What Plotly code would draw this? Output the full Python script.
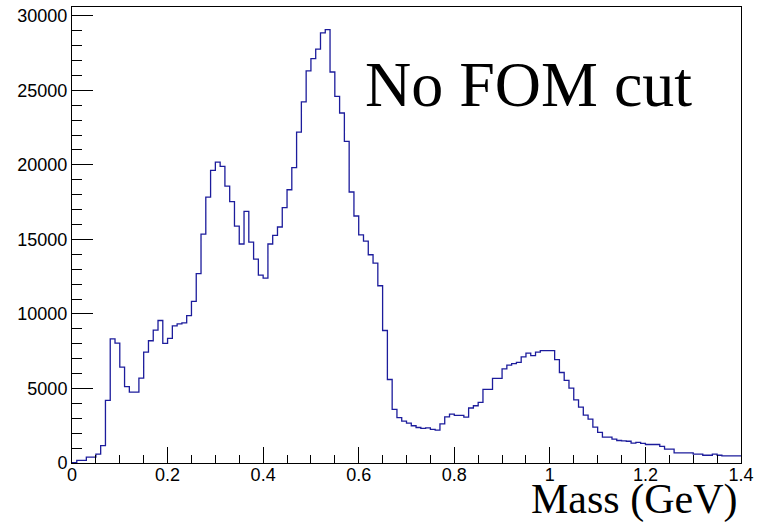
import numpy as np
import plotly.graph_objects as go

# Histogram: 140 bins of width 0.01 GeV from 0 to 1.4
bin_low = 0.0
bin_width = 0.01
counts = [
    20, 170, 170, 390, 390, 600, 1170, 4200, 8330, 8040,
    6430, 5130, 4750, 4750, 5690, 7440, 8200, 8910, 9560, 8020,
    8360, 9200, 9330, 9400, 9890, 10840, 12700, 15360, 17840, 19630,
    20190, 19900, 18580, 17530, 15890, 14690, 16880, 14820, 13680, 12600,
    12400, 14690, 15270, 15830, 17130, 18330, 19820, 22200, 24220, 26300,
    27130, 27770, 28850, 29070, 26230, 24600, 23480, 21580, 18180, 16570,
    15310, 14890, 13970, 13410, 11890, 8890, 5600, 3600, 3040, 2810,
    2670, 2500, 2380, 2320, 2350, 2260, 2210, 2620, 3090, 3280,
    3190, 3190, 3080, 3690, 3840, 4070, 4940, 4940, 5680, 5680,
    6310, 6560, 6660, 6750, 7120, 7370, 7200, 7440, 7540, 7540,
    7540, 6930, 6070, 5540, 5020, 4240, 3750, 3210, 2940, 2400,
    2050, 1730, 1730, 1600, 1510, 1480, 1460, 1330, 1380, 1310,
    1240, 1240, 1240, 1110, 930, 930, 680, 680, 680, 680,
    590, 590, 520, 520, 590, 520, 480, 480, 480, 480,
]
x_ticks = [0, 0.2, 0.4, 0.6, 0.8, 1.0, 1.2, 1.4]
x_ticktext = ["0", "0.2", "0.4", "0.6", "0.8", "1", "1.2", "1.4"]
y_ticks = [0, 5000, 10000, 15000, 20000, 25000, 30000]
y_ticktext = ["0", "5000", "10000", "15000", "20000", "25000", "30000"]
title_text = "No FOM cut"
xlabel_text = "Mass (GeV)"

edges = bin_low + bin_width * np.arange(len(counts) + 1)
yvals = list(counts) + [counts[-1]]

fig = go.Figure()
fig.add_trace(go.Scatter(
    x=edges, y=yvals, mode="lines", line_shape="hv",
    line=dict(color="#1c1c9c", width=1.3),
    showlegend=False, hoverinfo="skip",
))

axis_font = dict(family="Liberation Sans, Arial, sans-serif", size=18, color="black")

fig.update_layout(
    width=761, height=523,
    margin=dict(l=72, r=20, t=7, b=60),
    paper_bgcolor="white", plot_bgcolor="white",
    xaxis=dict(
        range=[0, 1.4], tickvals=x_ticks, ticktext=x_ticktext,
        ticks="inside", ticklen=16, tickwidth=1, tickcolor="black",
        minor=dict(dtick=0.05, tick0=0, ticks="inside", ticklen=8, tickwidth=1, tickcolor="black"),
        showline=True, linecolor="black", linewidth=1, mirror=True,
        showgrid=False, zeroline=False, tickfont=axis_font,
        ticklabelstandoff=-5,
    ),
    yaxis=dict(
        range=[0, 30590], tickvals=y_ticks, ticktext=y_ticktext,
        ticks="inside", ticklen=21, tickwidth=1, tickcolor="black",
        minor=dict(dtick=1000, tick0=0, ticks="inside", ticklen=10, tickwidth=1, tickcolor="black"),
        showline=True, linecolor="black", linewidth=1, mirror=True,
        showgrid=False, zeroline=False, tickfont=axis_font,
    ),
    annotations=[
        dict(text=title_text, xref="paper", yref="paper", x=0.435, y=0.829,
             xanchor="left", yanchor="middle", showarrow=False,
             font=dict(family="Liberation Serif, Times New Roman, serif", size=64, color="black")),
        dict(text=xlabel_text, xref="paper", yref="paper", x=0.9955, y=-0.1328,
             xanchor="right", yanchor="bottom", showarrow=False, borderpad=0,
             font=dict(family="Liberation Serif, Times New Roman, serif", size=42, color="black")),
    ],
)

fig.write_html("out.html")
